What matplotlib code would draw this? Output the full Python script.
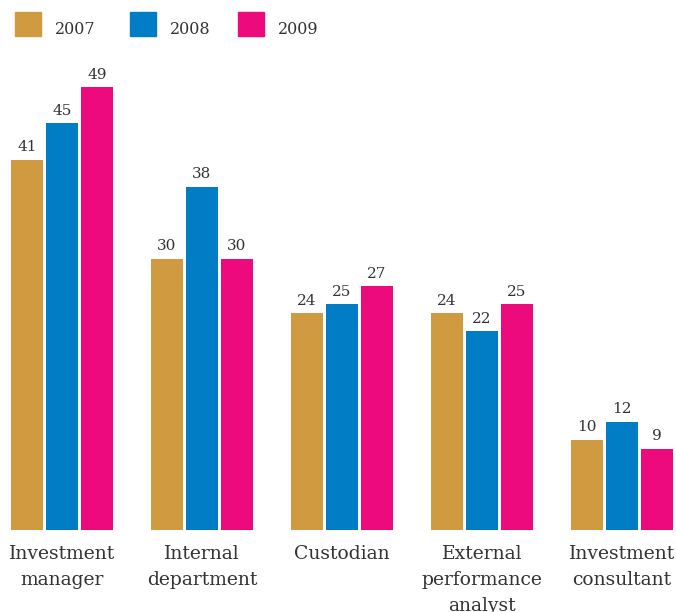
import matplotlib
matplotlib.use("Agg")
import matplotlib.pyplot as plt
import numpy as np

categories = ["Investment\nmanager", "Internal\ndepartment", "Custodian",
              "External\nperformance\nanalyst", "Investment\nconsultant"]
years = ["2007", "2008", "2009"]
v2007 = [41, 30, 24, 24, 10]
v2008 = [45, 38, 25, 22, 12]
v2009 = [49, 30, 27, 25, 9]
colors = ["#D09B40", "#007DC5", "#EC0A7C"]

plt.rcParams["font.family"] = ["DejaVu Serif"]
text_color = "#333333"

W, H = 676, 612
fig = plt.figure(figsize=(W / 100, H / 100), dpi=100)
ax = fig.add_axes([0, 82 / H, 1, 497 / H])

x = np.arange(len(categories))
width = 32 / 140
offset = 35 / 140
series = [v2007, v2008, v2009]
for i, (vals, col, yr) in enumerate(zip(series, colors, years)):
    ax.bar(x + (i - 1) * offset, vals, width, color=col, label=yr)
    for xi, v in zip(x + (i - 1) * offset, vals):
        ax.text(xi, v + 0.6, str(v), ha="center", va="bottom",
                fontsize=11, color=text_color)

ax.set_xlim(-62 / 140, (W - 62) / 140)
ax.set_ylim(0, 55)
ax.set_xticks(x)
ax.set_xticklabels(categories, fontsize=13.5, color=text_color, linespacing=1.55)
ax.tick_params(axis="x", length=0, pad=11)
ax.set_yticks([])
for s in ax.spines.values():
    s.set_visible(False)

# legend row at top
leg_x = [15, 130, 238]
for lx, col, yr in zip(leg_x, colors, years):
    fig.add_artist(plt.Rectangle((lx / W, 1 - 36 / H), 26 / W, 24 / H,
                                 transform=fig.transFigure, color=col))
    fig.text((lx + 40) / W, 1 - 29 / H, yr, ha="left", va="center",
             fontsize=11.5, color=text_color)

fig.savefig("out.png", dpi=100)
